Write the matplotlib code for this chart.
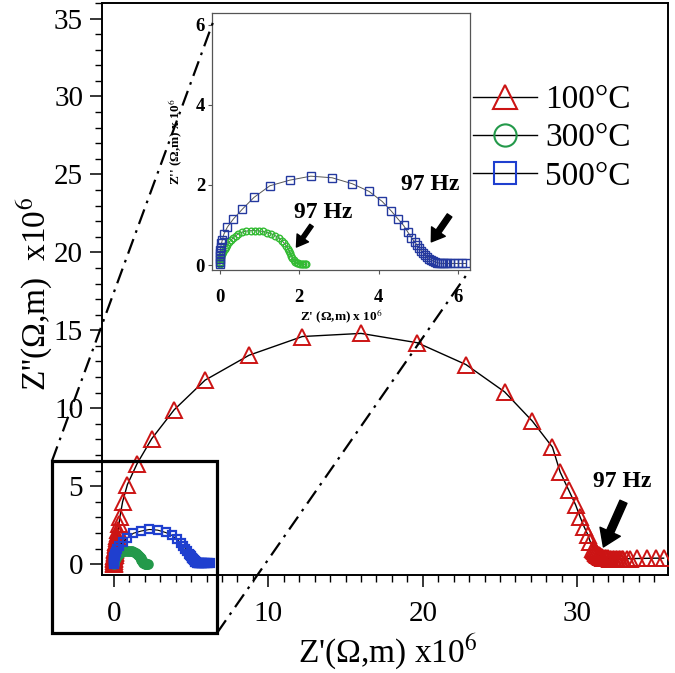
import matplotlib
matplotlib.use("Agg")
import matplotlib.pyplot as plt
from matplotlib.lines import Line2D
from matplotlib.patches import Rectangle
from matplotlib.ticker import MultipleLocator

plt.rcParams["font.family"] = ["Liberation Serif", "DejaVu Serif"]
plt.rcParams["mathtext.fontset"] = "stix"

# === Daten (Z' und Z'' in Ohm.m x 10^6) ===
z1_100 = [0.0, 0.0, 0.0, 0.01, 0.02, 0.03, 0.04, 0.05, 0.06, 0.07, 0.09, 0.1, 0.12, 0.13,
          0.15, 0.17, 0.2, 0.22, 0.25, 0.28, 0.33, 0.38, 0.56, 0.87,
          1.5, 2.45, 3.9, 5.9, 8.75, 12.2, 16.0, 19.65, 22.8, 25.3, 27.1, 28.4, 28.9, 29.45,
          29.9, 30.2, 30.45, 30.7, 30.85, 31.05, 31.1, 31.15, 31.2, 31.25, 31.3, 31.35, 31.4,
          31.45, 31.5, 31.55, 31.6, 31.7, 31.8, 31.9, 32.0, 32.1, 32.2, 32.3, 32.4, 32.5,
          32.6, 32.7, 32.8, 32.9, 33.0, 33.2, 33.4, 33.9, 34.5, 35.1, 35.6]
z2_100 = [0.0, 0.1, 0.2, 0.3, 0.4, 0.5, 0.6, 0.7, 0.8, 0.9, 1.0, 1.1, 1.2, 1.3,
          1.4, 1.5, 1.65, 1.8, 2.0, 2.2, 2.6, 3.0, 4.0, 5.1,
          6.45, 8.05, 9.9, 11.8, 13.4, 14.6, 14.8, 14.2, 12.8, 11.05, 9.17, 7.5, 5.9, 4.75,
          3.8, 3.0, 2.4, 1.86, 1.43, 1.0, 0.92, 0.85, 0.78, 0.72, 0.66, 0.61, 0.57,
          0.53, 0.5, 0.47, 0.45, 0.42, 0.4, 0.38, 0.36, 0.35, 0.34, 0.33, 0.32, 0.32,
          0.32, 0.32, 0.32, 0.33, 0.33, 0.34, 0.35, 0.36, 0.37, 0.38, 0.38]

z1_300 = [0.0, 0.0, 0.01, 0.03, 0.06, 0.09, 0.12, 0.15, 0.19, 0.23, 0.28, 0.34, 0.4, 0.46,
          0.56, 0.67, 0.78, 0.88, 0.99, 1.09, 1.2, 1.3, 1.4, 1.49, 1.56, 1.62, 1.67, 1.72,
          1.75, 1.77, 1.8, 1.83, 1.86, 1.9, 1.94, 1.98, 2.02, 2.06, 2.1, 2.14, 2.18]
z2_300 = [0.02, 0.08, 0.14, 0.2, 0.27, 0.33, 0.39, 0.45, 0.51, 0.57, 0.63, 0.68, 0.73, 0.78,
          0.82, 0.85, 0.86, 0.86, 0.85, 0.84, 0.81, 0.78, 0.73, 0.68, 0.61, 0.55, 0.48, 0.41,
          0.35, 0.29, 0.23, 0.17, 0.12, 0.08, 0.05, 0.04, 0.03, 0.03, 0.02, 0.02, 0.02]

z1_500 = [0.0, 0.0, 0.0, 0.0, 0.0, 0.01, 0.02, 0.04, 0.06, 0.1, 0.19, 0.34, 0.57, 0.86, 1.26,
          1.76, 2.29, 2.83, 3.34, 3.76, 4.09, 4.32, 4.49, 4.63, 4.74, 4.83, 4.91, 4.97, 5.03,
          5.08, 5.13, 5.18, 5.23, 5.28, 5.33, 5.38, 5.43, 5.48, 5.53, 5.58, 5.63, 5.68, 5.73,
          5.8, 5.9, 6.0, 6.1, 6.2]
z2_500 = [0.02, 0.08, 0.15, 0.22, 0.3, 0.38, 0.45, 0.54, 0.62, 0.77, 0.95, 1.15, 1.4, 1.69, 1.98,
          2.12, 2.22, 2.18, 2.03, 1.84, 1.59, 1.35, 1.15, 0.99, 0.82, 0.68, 0.58, 0.5, 0.42,
          0.36, 0.3, 0.25, 0.2, 0.16, 0.13, 0.1, 0.08, 0.06, 0.05, 0.04, 0.04, 0.04, 0.04,
          0.04, 0.04, 0.04, 0.04, 0.04]

labels = ["100°C", "300°C", "500°C"]

red = "#cc1414"
green_main = "#23994a"
blue_main = "#1f3fcf"
green_in = "#33bb33"
blue_in = "#24399f"

fig = plt.figure(figsize=(6.75, 6.73), dpi=100)

# === Hauptdiagramm ===
ax = fig.add_axes([0.151, 0.1456, 0.839, 0.85])
ax.plot(z1_100, z2_100, color="black", lw=1.0, marker="^", ms=12, mfc="none",
        mec=red, mew=1.4, zorder=3)
ax.plot(z1_300, z2_300, color="black", lw=0.8, marker="o", ms=6, mfc="none",
        mec=green_main, mew=1.6, zorder=3)
ax.plot(z1_500, z2_500, color="black", lw=0.8, marker="s", ms=6, mfc="none",
        mec=blue_main, mew=1.6, zorder=3)

ax.set_xlim(-0.78, 35.9)
ax.set_ylim(-0.7, 36.0)
ax.xaxis.set_major_locator(MultipleLocator(10))
ax.xaxis.set_minor_locator(MultipleLocator(1))
ax.yaxis.set_major_locator(MultipleLocator(5))
ax.yaxis.set_minor_locator(MultipleLocator(1))
ax.tick_params(which="major", direction="out", length=8.5, width=1.1, labelsize=21)
ax.tick_params(which="minor", direction="out", length=5, width=1.0)
ax.tick_params(axis="x", which="major", pad=10)
ax.tick_params(axis="y", which="major", pad=5)
for s in ax.spines.values():
    s.set_linewidth(1.4)

ax.annotate("", xy=(31.7, 1.1), xytext=(33.0, 4.0),
            arrowprops=dict(facecolor="black", edgecolor="black", width=5.5, headwidth=16, headlength=12))
ax.text(32.9, 5.3, "97 Hz", fontsize=17, fontweight="bold", ha="center", va="center")

fig.text(0.053, 0.563, "Z''(Ω,m)  x10$^{6}$", rotation=90, fontsize=24,
         ha="center", va="center")
fig.text(0.575, 0.03, "Z'(Ω,m) x10$^{6}$", fontsize=24, ha="center", va="center")

# === Legende ===
handles = [
    Line2D([], [], color="black", lw=1.0, marker="^", ms=17, mfc="none", mec=red, mew=1.5),
    Line2D([], [], color="black", lw=1.0, marker="o", ms=16, mfc="none", mec=green_main, mew=1.5),
    Line2D([], [], color="black", lw=1.0, marker="s", ms=16, mfc="none", mec=blue_main, mew=1.5),
]
fig.legend(handles, labels, loc="upper left", bbox_to_anchor=(0.701, 0.874),
           frameon=False, fontsize=24, handlelength=1.9, handletextpad=0.25,
           labelspacing=0.23, borderpad=0, borderaxespad=0)

# === Inset ===
ins = fig.add_axes([0.314, 0.599, 0.382, 0.382])
ins.set_facecolor("white")
ins.plot(z1_300, z2_300, color="#555555", lw=0.7, marker="o", ms=4.8, mfc="none",
         mec=green_in, mew=1.0)
ins.plot(z1_500, z2_500, color="#555555", lw=0.7, marker="s", ms=5.3, mfc="none",
         mec=blue_in, mew=1.0)
ins.set_xlim(-0.2, 6.3)
ins.set_ylim(-0.12, 6.3)
ins.set_xticks([0, 2, 4, 6])
ins.set_yticks([0, 2, 4, 6])
ins.tick_params(direction="out", length=3, width=0.8, color="#555555", labelsize=13.5)
ins.tick_params(axis="x", pad=11)
ins.tick_params(axis="y", pad=2)
for lab in ins.get_xticklabels() + ins.get_yticklabels():
    lab.set_fontweight("bold")
for s in ins.spines.values():
    s.set_linewidth(0.9)
    s.set_color("#555555")
ins.set_xlabel("Z' (Ω,m) x 10$^{6}$", fontsize=9.5, fontweight="bold", labelpad=1)
ins.set_ylabel("Z'' (Ω,m) x 10$^{6}$", fontsize=9.5, fontweight="bold", labelpad=8)

ins.annotate("", xy=(1.93, 0.45), xytext=(2.31, 0.99),
             arrowprops=dict(facecolor="black", edgecolor="black", width=3, headwidth=10, headlength=8))
ins.text(2.6, 1.32, "97 Hz", fontsize=17, fontweight="bold", ha="center", va="center")
ins.annotate("", xy=(5.33, 0.58), xytext=(5.79, 1.24),
             arrowprops=dict(facecolor="black", edgecolor="black", width=4, headwidth=12, headlength=9))
ins.text(5.29, 2.02, "97 Hz", fontsize=17, fontweight="bold", ha="center", va="center")

# === Zoom-Rahmen und Verbindungslinien ===
fig.add_artist(Rectangle((0.077, 0.0594), 0.2445, 0.2556, transform=fig.transFigure,
                         fill=False, edgecolor="black", lw=2.3, zorder=5))
dd = (0, (7, 3, 1.2, 3))
fig.add_artist(Line2D([0.077, 0.3156], [0.315, 0.967], transform=fig.transFigure,
                      color="black", lw=1.6, linestyle=dd, zorder=1))
fig.add_artist(Line2D([0.3215, 0.690], [0.0594, 0.590], transform=fig.transFigure,
                      color="black", lw=1.6, linestyle=dd, zorder=1))

fig.savefig("out.png", dpi=100)
